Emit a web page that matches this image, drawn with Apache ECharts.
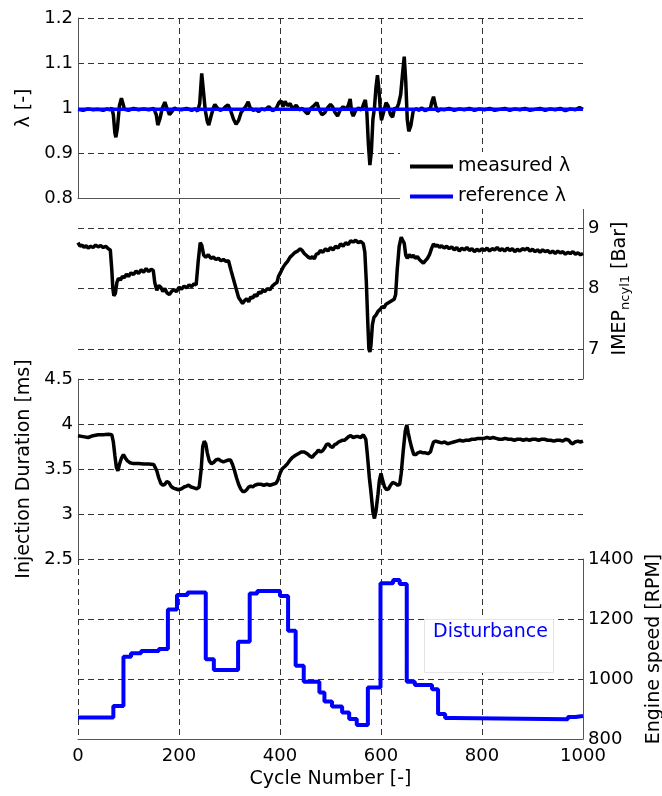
<!DOCTYPE html>
<html>
<head>
<meta charset="utf-8">
<script src="https://cdn.jsdelivr.net/npm/echarts@6/dist/echarts.min.js"></script>
<style>
  html, body { margin: 0; padding: 0; background: #fff; }
  #chart { width: 662px; height: 796px; }
</style>
</head>
<body>
<div id="chart"></div>
<script>
// ---- lambda (top panel) ----
var lambdaCycle = [0, 10, 20, 30, 40, 50, 58, 63, 67, 70, 73, 75, 78, 82, 86, 89, 92, 100, 110, 120,
  130, 140, 150, 155, 158, 162, 167, 172, 176, 181, 186, 191, 196, 205, 215, 225, 232, 237, 241, 245,
  249, 252, 256, 259, 263, 268, 271, 276, 281, 287, 292, 297, 302, 308, 313, 318, 323, 328, 333, 337,
  341, 347, 353, 358, 363, 370, 378, 385, 392, 398, 402, 406, 410, 415, 420, 425, 432, 438, 444, 450,
  455, 460, 467, 473, 478, 483, 489, 494, 500, 504, 509, 514, 519, 525, 530, 535, 539, 542, 545, 550,
  556, 561, 566, 569, 572, 575, 578, 581, 584, 587, 590, 593, 596, 599, 601, 605, 610, 614, 619, 623,
  627, 631, 635, 639, 643, 646, 649, 652, 655, 659, 664, 670, 675, 681, 687, 693, 698, 701, 704, 708,
  712, 718, 725, 735, 745, 755, 765, 775, 785, 795, 805, 815, 825, 835, 845, 855, 865, 875, 885, 895,
  905, 915, 925, 935, 945, 955, 965, 975, 985, 993, 1000];
var lambdaMeasured = [0.997, 0.995, 0.998, 0.996, 0.997, 0.995, 0.998, 0.996, 1.000, 0.985, 0.945, 0.935, 0.955, 1.005, 1.022, 1.010, 0.997, 0.995, 0.999, 0.996,
  0.998, 0.996, 0.999, 0.985, 0.962, 0.975, 1.000, 1.013, 1.000, 0.985, 0.992, 1.000, 0.997, 0.996, 0.999, 0.995, 0.998, 0.993, 1.010, 1.077,
  1.030, 0.995, 0.970, 0.962, 0.980, 1.000, 1.008, 1.000, 0.995, 0.997, 1.003, 1.007, 0.995, 0.975, 0.964, 0.972, 0.990, 0.997, 1.005, 1.014,
  1.000, 0.995, 0.997, 0.992, 0.998, 0.996, 1.003, 0.994, 0.998, 1.012, 1.016, 1.003, 1.015, 1.005, 1.010, 0.998, 1.006, 0.996, 0.999, 0.992,
  0.987, 0.998, 1.005, 1.012, 0.995, 0.985, 0.990, 1.000, 1.008, 1.003, 0.990, 0.982, 0.995, 1.003, 0.997, 1.005, 1.020, 0.990, 0.982, 0.995,
  1.000, 0.995, 1.010, 1.018, 0.990, 0.920, 0.873, 0.905, 0.975, 1.000, 1.045, 1.073, 1.040, 0.990, 0.973, 0.990, 1.012, 1.005, 0.985, 0.980,
  1.000, 0.998, 1.010, 1.030, 1.080, 1.114, 1.060, 0.975, 0.948, 0.960, 0.995, 0.998, 0.995, 1.000, 0.994, 0.997, 1.000, 1.015, 1.025, 1.005,
  0.993, 0.997, 0.996, 0.999, 0.995, 0.998, 0.996, 0.999, 0.995, 0.998, 0.996, 0.999, 0.995, 0.997, 0.999, 0.995, 0.998, 0.996, 0.999, 0.995,
  0.997, 0.999, 0.995, 0.998, 0.996, 0.999, 0.994, 0.998, 0.996, 1.001, 0.997];
var refCycle = [0, 1000];
var lambdaReference = [0.997, 0.997];

// ---- IMEP (second panel) ----
var imepCycle = [0, 4, 8, 12, 16, 20, 25, 30, 35, 40, 45, 50, 55, 60, 64, 67, 69, 71, 74, 77,
  80, 84, 88, 92, 96, 100, 105, 110, 115, 120, 125, 130, 135, 140, 145, 149, 152, 156, 160, 164,
  168, 172, 176, 181, 186, 190, 195, 200, 205, 210, 215, 220, 225, 230, 234, 238, 242, 245, 249, 253,
  258, 263, 268, 273, 278, 283, 288, 293, 298, 303, 308, 313, 318, 322, 326, 330, 334, 338, 342, 346,
  350, 354, 358, 362, 366, 370, 375, 380, 385, 390, 394, 397, 402, 406, 410, 415, 420, 425, 430, 435,
  440, 444, 448, 452, 456, 460, 464, 468, 472, 476, 480, 485, 490, 495, 500, 505, 510, 515, 520, 525,
  530, 535, 540, 545, 550, 555, 560, 565, 568, 571, 574, 576, 578, 580, 583, 586, 590, 594, 598, 602,
  606, 610, 614, 618, 622, 626, 629, 632, 636, 640, 643, 646, 649, 652, 656, 660, 664, 668, 672, 676,
  680, 684, 688, 692, 696, 700, 704, 708, 712, 716, 720, 725, 730, 735, 740, 745, 750, 755, 760, 765,
  770, 775, 780, 785, 790, 795, 800, 805, 810, 815, 820, 825, 830, 835, 840, 845, 850, 855, 860, 865,
  870, 875, 880, 885, 890, 895, 900, 905, 910, 915, 920, 925, 930, 935, 940, 945, 950, 955, 960, 965,
  970, 975, 980, 985, 990, 995, 1000];
var imepValue = [8.76, 8.70, 8.72, 8.68, 8.71, 8.67, 8.70, 8.68, 8.72, 8.69, 8.71, 8.68, 8.70, 8.66, 8.64, 8.30, 8.00, 7.88, 7.92, 8.10,
  8.17, 8.14, 8.20, 8.18, 8.24, 8.20, 8.26, 8.23, 8.29, 8.25, 8.31, 8.27, 8.33, 8.28, 8.32, 8.30, 8.10, 7.97, 8.05, 8.02,
  7.95, 8.00, 7.93, 7.90, 7.96, 7.98, 7.95, 8.02, 7.99, 8.04, 8.01, 8.06, 8.03, 8.08, 8.06, 8.45, 8.76, 8.72, 8.55, 8.52,
  8.56, 8.50, 8.52, 8.48, 8.50, 8.46, 8.48, 8.45, 8.46, 8.30, 8.15, 8.00, 7.85, 7.80, 7.75, 7.80, 7.83, 7.78, 7.86, 7.84,
  7.90, 7.87, 7.94, 7.92, 7.97, 7.95, 8.00, 7.98, 8.04, 8.08, 8.10, 8.20, 8.28, 8.35, 8.40, 8.45, 8.52, 8.56, 8.60, 8.62,
  8.66, 8.63, 8.58, 8.55, 8.52, 8.50, 8.53, 8.49, 8.57, 8.58, 8.63, 8.60, 8.66, 8.62, 8.68, 8.64, 8.70, 8.67, 8.74, 8.70,
  8.76, 8.73, 8.79, 8.77, 8.80, 8.76, 8.78, 8.74, 8.60, 8.10, 7.40, 7.00, 6.95, 7.05, 7.40, 7.52, 7.56, 7.62, 7.65, 7.70,
  7.68, 7.74, 7.76, 7.78, 7.80, 7.82, 7.90, 8.30, 8.70, 8.85, 8.82, 8.75, 8.55, 8.50, 8.56, 8.52, 8.55, 8.50, 8.53, 8.48,
  8.45, 8.42, 8.46, 8.50, 8.56, 8.66, 8.74, 8.70, 8.72, 8.68, 8.71, 8.67, 8.70, 8.66, 8.69, 8.64, 8.68, 8.62, 8.67, 8.64,
  8.68, 8.63, 8.66, 8.61, 8.65, 8.62, 8.66, 8.63, 8.67, 8.62, 8.66, 8.64, 8.68, 8.63, 8.66, 8.62, 8.67, 8.63, 8.66, 8.61,
  8.65, 8.62, 8.66, 8.64, 8.67, 8.62, 8.65, 8.61, 8.64, 8.60, 8.64, 8.61, 8.63, 8.59, 8.62, 8.58, 8.62, 8.59, 8.61, 8.57,
  8.60, 8.58, 8.61, 8.57, 8.59, 8.56, 8.58];

// ---- injection duration (third panel) ----
var injCycle = [0, 10, 20, 30, 40, 50, 60, 67, 70, 73, 76, 79, 82, 86, 90, 94, 98, 103, 110, 120,
  130, 140, 150, 153, 156, 160, 164, 168, 172, 176, 180, 184, 188, 193, 199, 205, 210, 215, 219, 224,
  230, 235, 240, 244, 247, 250, 253, 256, 260, 264, 268, 273, 278, 283, 288, 293, 298, 302, 306, 310,
  314, 318, 322, 326, 330, 334, 338, 342, 346, 350, 356, 362, 368, 374, 380, 386, 392, 396, 400, 404,
  410, 415, 420, 425, 430, 436, 442, 448, 454, 460, 464, 468, 472, 476, 480, 484, 488, 492, 496, 500,
  504, 508, 512, 516, 520, 524, 528, 532, 536, 540, 545, 550, 555, 560, 565, 568, 570, 573, 577, 580,
  584, 587, 590, 594, 597, 600, 603, 607, 611, 615, 619, 623, 628, 633, 637, 640, 644, 648, 651, 654,
  657, 661, 665, 669, 673, 678, 683, 688, 693, 698, 701, 704, 708, 714, 720, 726, 732, 738, 744, 750,
  756, 762, 768, 774, 780, 786, 792, 798, 804, 810, 816, 822, 828, 834, 840, 846, 852, 858, 864, 870,
  876, 882, 888, 894, 900, 906, 912, 918, 924, 930, 936, 942, 948, 954, 960, 966, 972, 976, 980, 984,
  990, 995, 1000];
var injValue = [3.87, 3.86, 3.85, 3.87, 3.88, 3.88, 3.885, 3.88, 3.80, 3.65, 3.52, 3.48, 3.55, 3.62, 3.66, 3.62, 3.59, 3.57, 3.56, 3.56,
  3.555, 3.555, 3.55, 3.55, 3.48, 3.40, 3.34, 3.32, 3.33, 3.36, 3.35, 3.31, 3.29, 3.28, 3.27, 3.28, 3.30, 3.31, 3.32, 3.30,
  3.29, 3.28, 3.30, 3.50, 3.75, 3.81, 3.78, 3.68, 3.59, 3.56, 3.57, 3.60, 3.61, 3.59, 3.58, 3.59, 3.60, 3.60, 3.55, 3.48,
  3.40, 3.33, 3.28, 3.25, 3.25, 3.27, 3.30, 3.31, 3.30, 3.32, 3.33, 3.33, 3.32, 3.33, 3.32, 3.33, 3.34, 3.38, 3.45, 3.50,
  3.53, 3.56, 3.60, 3.63, 3.65, 3.67, 3.69, 3.69, 3.67, 3.64, 3.63, 3.66, 3.68, 3.71, 3.69, 3.70, 3.73, 3.77, 3.78, 3.75,
  3.74, 3.77, 3.78, 3.80, 3.81, 3.82, 3.82, 3.84, 3.86, 3.87, 3.85, 3.86, 3.86, 3.85, 3.88, 3.90, 3.83, 3.66, 3.40, 3.25,
  3.02, 2.95, 3.03, 3.22, 3.38, 3.45, 3.38, 3.30, 3.27, 3.28, 3.32, 3.35, 3.34, 3.32, 3.33, 3.45, 3.70, 3.92, 3.99, 3.90,
  3.82, 3.73, 3.66, 3.66, 3.68, 3.69, 3.68, 3.68, 3.67, 3.69, 3.75, 3.80, 3.81, 3.80, 3.79, 3.80, 3.78, 3.79, 3.80, 3.81,
  3.82, 3.81, 3.82, 3.82, 3.83, 3.83, 3.84, 3.84, 3.84, 3.85, 3.84, 3.85, 3.84, 3.83, 3.83, 3.84, 3.83, 3.83, 3.82, 3.83,
  3.83, 3.82, 3.83, 3.82, 3.83, 3.83, 3.82, 3.83, 3.83, 3.82, 3.82, 3.81, 3.82, 3.82, 3.81, 3.83, 3.82, 3.79, 3.78, 3.80,
  3.81, 3.80, 3.81];

// ---- engine speed (bottom panel, held steps) ----
var rpmCycle = [0, 70, 90, 105, 125, 160, 178, 196, 217, 253, 269, 317, 340, 355, 400, 416, 431, 447, 478, 488,
  503, 523, 537, 552, 574, 599, 624, 637, 651, 667, 701, 713, 727, 743, 970, 985, 1000];
var rpmValue = [872, 910, 1074, 1086, 1093, 1100, 1232, 1280, 1288, 1066, 1030, 1124, 1285, 1293, 1277, 1161, 1044, 991, 955, 925,
  908, 888, 867, 847, 972, 1319, 1330, 1317, 991, 980, 966, 883, 870, 866, 873, 877, 877];

var xTicks = [0, 200, 400, 600, 800, 1000];

function pairs(xs, ys) {
  return xs.map(function(x, i) { return [x, ys[i]]; });
}

var FONT = "DejaVu Sans";
var dash = { color: "#333", width: 1, type: [6, 4] };
var solidAxis = { show: true, onZero: false, lineStyle: { color: "#555", width: 1 } };
var tickLabel = {
  color: "#000", fontSize: 18, fontFamily: FONT, margin: 5,
  formatter: function(v) { return String(v); }   // no thousands separator
};
var nameStyle = { color: "#000", fontSize: 19, fontFamily: FONT };

var grids = [
  { left: 78, width: 505, top: 18, height: 180 },
  { left: 78, width: 505, top: 198, height: 181 },
  { left: 78, width: 505, top: 379, height: 180 },
  { left: 78, width: 505, top: 559, height: 180 }
].map(function(g) { g.outerBoundsMode = "none"; g.containLabel = false; return g; });

var xAxes = [0, 1, 2, 3].map(function(i) {
  return {
    gridIndex: i,
    type: "value",
    min: xTicks[0],
    max: xTicks[xTicks.length - 1],
    interval: 200,
    axisLine: i === 0 || i === 3 ? solidAxis : { show: false },
    axisTick: { show: false },
    axisLabel: i === 3 ? Object.assign({}, tickLabel, { margin: 8 }) : { show: false },
    splitLine: { show: true, lineStyle: dash, showMinLine: i === 3, showMaxLine: false },
    name: i === 3 ? "Cycle Number [-]" : "",
    nameLocation: "middle",
    nameGap: 31,
    nameTextStyle: nameStyle
  };
});

var yAxes = [
  {
    gridIndex: 0, type: "value", position: "left",
    min: 0.8, max: 1.2, interval: 0.1,
    axisLine: solidAxis, axisTick: { show: false },
    axisLabel: tickLabel,
    splitLine: { show: true, lineStyle: dash },
    name: "λ [-]", nameLocation: "middle", nameRotate: 90, nameGap: 42,
    nameTextStyle: nameStyle
  },
  {
    gridIndex: 1, type: "value", position: "right",
    min: 6.5, max: 9.5, interval: 0.5,
    axisLine: solidAxis, axisTick: { show: false },
    axisLabel: Object.assign({}, tickLabel, {
      formatter: function(v) { return v % 1 === 0 ? String(v) : ""; }
    }),
    // only the whole-number lines are drawn
    splitLine: { show: true, lineStyle: { color: ["rgba(0,0,0,0)", "#333"], width: 1, type: [6, 4] } },
    name: "{a|IMEP}{s|ncyl1}{a| [Bar]}", nameLocation: "middle", nameRotate: 90, nameGap: 18,
    nameTextStyle: {
      color: "#000", fontFamily: FONT,
      rich: {
        a: { fontSize: 19, fontFamily: FONT, color: "#000" },
        s: { fontSize: 13, fontFamily: FONT, color: "#000", padding: [12, 0, 0, 0] }
      }
    }
  },
  {
    gridIndex: 2, type: "value", position: "left",
    min: 2.5, max: 4.5, interval: 0.5,
    axisLine: solidAxis, axisTick: { show: false },
    axisLabel: tickLabel,
    splitLine: { show: true, lineStyle: dash },
    name: "Injection Duration [ms]", nameLocation: "middle", nameRotate: 90, nameGap: 42,
    nameTextStyle: nameStyle
  },
  {
    gridIndex: 3, type: "value", position: "right",
    min: 800, max: 1400, interval: 200,
    axisLine: solidAxis, axisTick: { show: false },
    axisLabel: tickLabel,
    splitLine: { show: true, lineStyle: dash },
    name: "Engine speed [RPM]", nameLocation: "middle", nameRotate: 90, nameGap: 55,
    nameTextStyle: nameStyle
  }
];

var option = {
  backgroundColor: "#fff",
  animation: false,
  textStyle: { fontFamily: FONT },
  grid: grids,
  xAxis: xAxes,
  yAxis: yAxes,
  title: {
    text: "Disturbance",
    left: 424,
    top: 619,
    padding: [4, 6, 31, 9],
    backgroundColor: "#fff",
    borderColor: "#e4e4e4",
    borderWidth: 1,
    textStyle: { color: "#0000ff", fontSize: 19, fontWeight: "normal", fontFamily: FONT }
  },
  legend: {
    data: [
      { name: "measured λ", icon: "rect", itemStyle: { color: "#000" } },
      { name: "reference λ", icon: "rect", itemStyle: { color: "#0000ff" } }
    ],
    orient: "vertical",
    left: 400,
    top: 152,
    padding: [5, 14, 3, 10],
    itemGap: 11,
    itemWidth: 43,
    itemHeight: 4,
    backgroundColor: "#fff",
    textStyle: { color: "#000", fontSize: 19, fontFamily: FONT }
  },
  series: [
    {
      name: "measured λ", type: "line", xAxisIndex: 0, yAxisIndex: 0,
      data: pairs(lambdaCycle, lambdaMeasured),
      symbol: "none", smooth: false,
      lineStyle: { color: "#000", width: 3.5 }, itemStyle: { color: "#000" }
    },
    {
      name: "reference λ", type: "line", xAxisIndex: 0, yAxisIndex: 0,
      data: pairs(refCycle, lambdaReference),
      symbol: "none",
      lineStyle: { color: "#0000ff", width: 3.5 }, itemStyle: { color: "#0000ff" }
    },
    {
      name: "IMEP", type: "line", xAxisIndex: 1, yAxisIndex: 1,
      data: pairs(imepCycle, imepValue),
      symbol: "none",
      lineStyle: { color: "#000", width: 3.5 }, itemStyle: { color: "#000" }
    },
    {
      name: "Injection Duration", type: "line", xAxisIndex: 2, yAxisIndex: 2,
      data: pairs(injCycle, injValue),
      symbol: "none",
      lineStyle: { color: "#000", width: 3.5 }, itemStyle: { color: "#000" }
    },
    {
      name: "Engine speed", type: "line", xAxisIndex: 3, yAxisIndex: 3,
      data: pairs(rpmCycle, rpmValue),
      symbol: "none", step: "end",
      lineStyle: { color: "#0000ff", width: 4 }, itemStyle: { color: "#0000ff" }
    }
  ]
};

var chart = echarts.init(document.getElementById("chart"));
chart.setOption(option);
</script>
</body>
</html>
